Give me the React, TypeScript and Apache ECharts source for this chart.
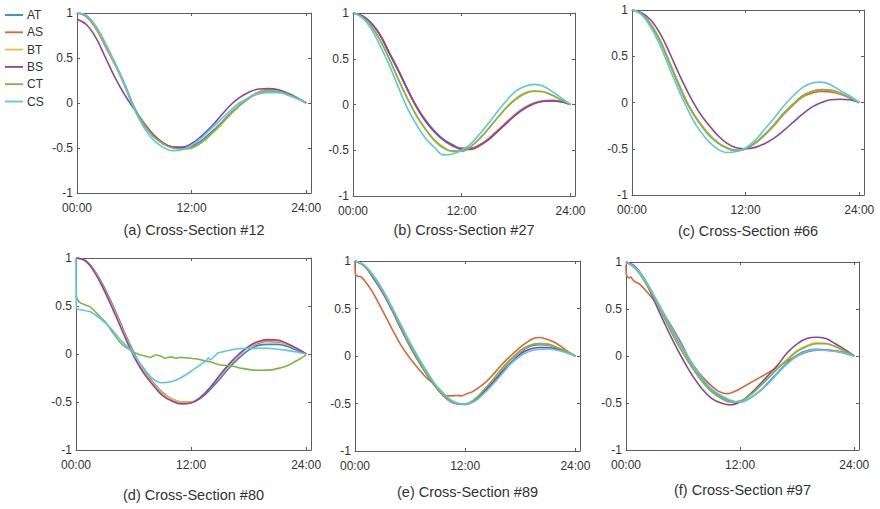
import React, { useEffect, useRef } from "react";
import * as echarts from "echarts";

const SERIES_NAMES = ["AT", "AS", "BT", "BS", "CT", "CS"];
const COLORS: Record<string, string> = {
  AT: "#2f86c9",
  AS: "#e0643a",
  BT: "#efbc3c",
  BS: "#8f42a6",
  CT: "#7fb63e",
  CS: "#5cc4ef",
};

const HOURS = [0, 1, 2, 3, 4, 5, 6, 7, 8, 9, 10, 11, 12, 13, 14, 15, 16, 17, 18, 19, 20, 21, 22, 23, 24];
const X_TICKS = [0, 12, 24];
const X_TICK_LABELS = ["00:00", "12:00", "24:00"];
const Y_TICKS = [-1, -0.5, 0, 0.5, 1];

// (a) Cross-Section #12
const A_AT = [1.0, 0.96, 0.83, 0.63, 0.43, 0.2, -0.05, -0.24, -0.37, -0.45, -0.49, -0.5, -0.48, -0.42, -0.33, -0.23, -0.12, -0.03, 0.06, 0.12, 0.14, 0.135, 0.105, 0.06, 0.0];
const A_AS = [1.0, 0.96, 0.82, 0.62, 0.42, 0.19, -0.06, -0.24, -0.37, -0.45, -0.49, -0.5, -0.49, -0.44, -0.35, -0.25, -0.13, -0.03, 0.06, 0.12, 0.15, 0.145, 0.11, 0.06, 0.0];
const A_BT = [1.0, 0.97, 0.83, 0.63, 0.43, 0.2, -0.05, -0.23, -0.37, -0.45, -0.49, -0.51, -0.5, -0.44, -0.35, -0.25, -0.13, -0.03, 0.06, 0.12, 0.145, 0.14, 0.11, 0.06, 0.0];
const A_BS = [0.93, 0.87, 0.72, 0.5, 0.28, 0.09, -0.07, -0.22, -0.35, -0.44, -0.49, -0.49, -0.45, -0.37, -0.27, -0.15, -0.03, 0.06, 0.12, 0.155, 0.16, 0.15, 0.11, 0.06, 0.0];
const A_CT = [1.0, 0.97, 0.84, 0.64, 0.44, 0.21, -0.05, -0.23, -0.37, -0.45, -0.5, -0.51, -0.5, -0.44, -0.35, -0.24, -0.13, -0.03, 0.05, 0.11, 0.135, 0.13, 0.1, 0.055, 0.0];
const A_CS = [1.0, 0.97, 0.85, 0.66, 0.44, 0.19, -0.07, -0.27, -0.41, -0.49, -0.53, -0.52, -0.47, -0.39, -0.29, -0.19, -0.09, 0.0, 0.06, 0.1, 0.115, 0.115, 0.09, 0.05, 0.0];

// (b) Cross-Section #27
const B_AT = [1.0, 0.97, 0.89, 0.76, 0.57, 0.38, 0.17, -0.02, -0.17, -0.29, -0.38, -0.44, -0.48, -0.48, -0.44, -0.38, -0.29, -0.19, -0.11, -0.04, 0.01, 0.035, 0.04, 0.03, 0.0];
const B_AS = [1.0, 0.97, 0.89, 0.75, 0.56, 0.37, 0.16, -0.03, -0.18, -0.3, -0.39, -0.45, -0.48, -0.48, -0.44, -0.37, -0.28, -0.19, -0.1, -0.03, 0.015, 0.04, 0.045, 0.03, 0.0];
const B_BT = [1.0, 0.96, 0.86, 0.7, 0.5, 0.27, 0.06, -0.12, -0.27, -0.4, -0.48, -0.515, -0.51, -0.46, -0.37, -0.26, -0.14, -0.02, 0.07, 0.13, 0.15, 0.14, 0.1, 0.05, 0.0];
const B_BS = [1.0, 0.97, 0.89, 0.76, 0.56, 0.37, 0.17, -0.02, -0.18, -0.3, -0.39, -0.45, -0.49, -0.49, -0.45, -0.38, -0.29, -0.2, -0.11, -0.04, 0.01, 0.035, 0.04, 0.03, 0.0];
const B_CT = [1.0, 0.96, 0.86, 0.7, 0.5, 0.28, 0.07, -0.12, -0.27, -0.39, -0.47, -0.51, -0.51, -0.46, -0.37, -0.26, -0.14, -0.03, 0.06, 0.12, 0.145, 0.14, 0.1, 0.05, 0.0];
const B_CS = [1.0, 0.95, 0.83, 0.64, 0.43, 0.19, -0.04, -0.22, -0.37, -0.47, -0.55, -0.54, -0.5, -0.43, -0.32, -0.2, -0.07, 0.05, 0.15, 0.2, 0.22, 0.2, 0.14, 0.07, 0.0];

// (c) Cross-Section #66
const C_AT = [1.0, 0.96, 0.84, 0.66, 0.42, 0.18, -0.04, -0.2, -0.33, -0.43, -0.49, -0.52, -0.5, -0.44, -0.35, -0.24, -0.12, -0.02, 0.07, 0.12, 0.135, 0.13, 0.1, 0.05, 0.0];
const C_AS = [1.0, 0.96, 0.84, 0.66, 0.42, 0.18, -0.04, -0.2, -0.33, -0.43, -0.49, -0.52, -0.5, -0.44, -0.35, -0.25, -0.13, -0.03, 0.06, 0.1, 0.12, 0.115, 0.09, 0.05, 0.0];
const C_BT = [1.0, 0.96, 0.85, 0.67, 0.43, 0.19, -0.03, -0.2, -0.33, -0.43, -0.49, -0.52, -0.5, -0.44, -0.35, -0.24, -0.12, -0.02, 0.07, 0.12, 0.14, 0.13, 0.1, 0.05, 0.0];
const C_BS = [1.0, 0.97, 0.89, 0.74, 0.53, 0.3, 0.09, -0.09, -0.23, -0.35, -0.44, -0.49, -0.5, -0.485, -0.445, -0.385, -0.305, -0.215, -0.125, -0.05, 0.0, 0.03, 0.035, 0.03, 0.0];
const C_CT = [1.0, 0.96, 0.84, 0.66, 0.42, 0.18, -0.04, -0.2, -0.34, -0.43, -0.49, -0.52, -0.5, -0.44, -0.35, -0.24, -0.12, -0.02, 0.07, 0.12, 0.14, 0.135, 0.1, 0.05, 0.0];
const C_CS = [1.0, 0.95, 0.81, 0.61, 0.36, 0.12, -0.1, -0.28, -0.41, -0.5, -0.54, -0.53, -0.49, -0.41, -0.29, -0.17, -0.04, 0.07, 0.16, 0.21, 0.22, 0.19, 0.13, 0.07, 0.0];

// (d) Cross-Section #80
const D_AT = [1.0, 0.97, 0.86, 0.68, 0.47, 0.24, 0.02, -0.16, -0.29, -0.4, -0.47, -0.5, -0.5, -0.46, -0.37, -0.26, -0.14, -0.04, 0.04, 0.09, 0.1, 0.1, 0.08, 0.04, 0.0];
const D_AS = [1.0, 0.97, 0.85, 0.66, 0.45, 0.22, 0.0, -0.17, -0.3, -0.41, -0.47, -0.5, -0.5, -0.45, -0.35, -0.23, -0.11, -0.01, 0.07, 0.11, 0.13, 0.125, 0.1, 0.055, 0.0];
const D_BT = [1.0, 0.97, 0.85, 0.66, 0.45, 0.22, 0.0, -0.17, -0.3, -0.41, -0.47, -0.5, -0.5, -0.45, -0.35, -0.23, -0.11, -0.01, 0.07, 0.12, 0.14, 0.135, 0.1, 0.055, 0.0];
const D_BS = [1.0, 0.97, 0.84, 0.65, 0.43, 0.2, -0.02, -0.19, -0.32, -0.43, -0.49, -0.52, -0.51, -0.45, -0.35, -0.22, -0.1, 0.0, 0.08, 0.13, 0.15, 0.145, 0.11, 0.06, 0.0];
const D_CT_X = [0, 0.2, 0.5, 1, 1.5, 2, 2.5, 3, 3.5, 4, 4.6, 5.2, 5.7, 6.2, 6.7, 7.2, 7.8, 8.3, 8.8, 9.3, 9.9, 10.4, 10.9, 11.5, 12, 12.5, 13, 13.5, 14, 14.5, 15.1, 15.8, 16.5, 17.3, 18.3, 19.3, 20.4, 21.1, 21.8, 22.3, 22.8, 23.4, 24];
const D_CT_Y = [0.61, 0.56, 0.53, 0.51, 0.49, 0.44, 0.39, 0.34, 0.27, 0.2, 0.12, 0.07, 0.04, 0.01, -0.01, -0.02, -0.035, -0.01, -0.02, -0.045, -0.03, -0.045, -0.035, -0.04, -0.045, -0.05, -0.06, -0.075, -0.08, -0.1, -0.115, -0.12, -0.13, -0.15, -0.165, -0.17, -0.165, -0.15, -0.13, -0.11, -0.08, -0.05, -0.01];
const D_CS_X = [0, 0.05, 0.5, 1.5, 2.5, 3.6, 4.6, 5.7, 6.7, 7.8, 8.8, 9.9, 10.9, 12, 13, 13.6, 13.8, 14, 14.8, 15.6, 16.5, 18.3, 20, 21.8, 23, 24];
const D_CS_Y = [1.0, 0.48, 0.46, 0.44, 0.37, 0.27, 0.15, 0.04, -0.1, -0.24, -0.3, -0.29, -0.25, -0.18, -0.11, -0.07, -0.04, -0.06, 0.01, 0.03, 0.05, 0.06, 0.06, 0.04, 0.02, 0.0];

// (e) Cross-Section #89
const E_AT = [1.0, 0.95, 0.82, 0.67, 0.49, 0.29, 0.11, -0.06, -0.22, -0.35, -0.45, -0.5, -0.505, -0.46, -0.37, -0.26, -0.15, -0.04, 0.04, 0.1, 0.12, 0.115, 0.085, 0.045, 0.0];
const E_AS_X = [0, 0.05, 0.3, 0.7, 1.3, 2, 2.5, 3.1, 4, 4.9, 5.8, 6.7, 7.6, 8.5, 9.3, 10, 10.5, 11.1, 11.6, 12.1, 12.7, 13.2, 13.8, 14.3, 15, 15.8, 16.7, 17.6, 18.5, 19.4, 20.1, 20.8, 21.6, 22.3, 23, 24];
const E_AS_Y = [1.0, 0.86, 0.84, 0.83, 0.76, 0.66, 0.57, 0.46, 0.29, 0.13, 0.0, -0.11, -0.21, -0.29, -0.36, -0.42, -0.42, -0.415, -0.42, -0.4, -0.38, -0.35, -0.31, -0.27, -0.2, -0.11, -0.02, 0.06, 0.13, 0.185, 0.195, 0.18, 0.15, 0.11, 0.06, 0.0];
const E_BT = [1.0, 0.95, 0.83, 0.67, 0.49, 0.3, 0.11, -0.06, -0.22, -0.35, -0.45, -0.5, -0.505, -0.46, -0.37, -0.26, -0.14, -0.03, 0.05, 0.11, 0.13, 0.125, 0.09, 0.05, 0.0];
const E_BS = [1.0, 0.95, 0.82, 0.67, 0.49, 0.29, 0.1, -0.07, -0.22, -0.35, -0.45, -0.5, -0.51, -0.47, -0.38, -0.28, -0.17, -0.07, 0.02, 0.07, 0.09, 0.09, 0.07, 0.04, 0.0];
const E_CT = [1.0, 0.95, 0.83, 0.68, 0.5, 0.3, 0.11, -0.06, -0.22, -0.35, -0.45, -0.5, -0.505, -0.46, -0.36, -0.25, -0.13, -0.03, 0.06, 0.11, 0.13, 0.125, 0.09, 0.05, 0.0];
const E_CS = [1.0, 0.96, 0.85, 0.7, 0.52, 0.33, 0.14, -0.03, -0.19, -0.33, -0.43, -0.49, -0.51, -0.48, -0.4, -0.3, -0.19, -0.08, 0.0, 0.05, 0.07, 0.075, 0.06, 0.035, 0.0];

// (f) Cross-Section #97
const F_AT = [1.0, 0.94, 0.81, 0.63, 0.44, 0.25, 0.07, -0.1, -0.24, -0.36, -0.43, -0.48, -0.49, -0.45, -0.38, -0.28, -0.17, -0.07, 0.01, 0.055, 0.07, 0.065, 0.05, 0.03, 0.0];
const F_AS_X = [0, 0.05, 0.3, 0.5, 0.8, 1.5, 2.3, 3.2, 4.1, 5, 5.9, 6.7, 7.6, 8.5, 9.5, 10.1, 10.6, 11.1, 11.6, 12.3, 13, 13.7, 14.4, 15.1, 15.8, 16.5, 17.2, 18, 18.9, 19.8, 20.7, 21.5, 22.4, 23.2, 24];
const F_AS_Y = [0.97, 0.86, 0.83, 0.84, 0.8, 0.76, 0.67, 0.56, 0.43, 0.28, 0.12, -0.04, -0.17, -0.27, -0.36, -0.39, -0.4, -0.39, -0.37, -0.33, -0.29, -0.25, -0.21, -0.17, -0.13, -0.08, -0.04, 0.0, 0.04, 0.06, 0.065, 0.06, 0.05, 0.03, 0.0];
const F_BT = [1.0, 0.93, 0.79, 0.61, 0.41, 0.21, 0.03, -0.13, -0.27, -0.38, -0.45, -0.49, -0.48, -0.42, -0.33, -0.23, -0.12, -0.03, 0.06, 0.11, 0.14, 0.135, 0.1, 0.05, 0.0];
const F_BS = [1.0, 0.95, 0.8, 0.58, 0.36, 0.15, -0.04, -0.21, -0.35, -0.45, -0.5, -0.52, -0.49, -0.41, -0.31, -0.2, -0.09, 0.04, 0.13, 0.185, 0.2, 0.185, 0.13, 0.07, 0.0];
const F_CT = [1.0, 0.93, 0.79, 0.61, 0.41, 0.21, 0.03, -0.13, -0.27, -0.38, -0.45, -0.49, -0.48, -0.42, -0.33, -0.23, -0.13, -0.04, 0.05, 0.1, 0.13, 0.13, 0.1, 0.05, 0.0];
const F_CS = [1.0, 0.94, 0.81, 0.63, 0.45, 0.26, 0.08, -0.09, -0.23, -0.35, -0.42, -0.47, -0.49, -0.45, -0.38, -0.29, -0.18, -0.08, 0.0, 0.05, 0.065, 0.06, 0.05, 0.03, 0.0];

const PANEL_TITLES = [
  "(a) Cross-Section #12",
  "(b) Cross-Section #27",
  "(c) Cross-Section #66",
  "(d) Cross-Section #80",
  "(e) Cross-Section #89",
  "(f) Cross-Section #97",
];

type XY = [number[], number[]];
const h = (ys: number[]): XY => [HOURS, ys];

const PANEL_DATA: Record<string, XY>[] = [
  { AT: h(A_AT), AS: h(A_AS), BT: h(A_BT), BS: h(A_BS), CT: h(A_CT), CS: h(A_CS) },
  { AT: h(B_AT), AS: h(B_AS), BT: h(B_BT), BS: h(B_BS), CT: h(B_CT), CS: h(B_CS) },
  { AT: h(C_AT), AS: h(C_AS), BT: h(C_BT), BS: h(C_BS), CT: h(C_CT), CS: h(C_CS) },
  { AT: h(D_AT), AS: h(D_AS), BT: h(D_BT), BS: h(D_BS), CT: [D_CT_X, D_CT_Y], CS: [D_CS_X, D_CS_Y] },
  { AT: h(E_AT), AS: [E_AS_X, E_AS_Y], BT: h(E_BT), BS: h(E_BS), CT: h(E_CT), CS: h(E_CS) },
  { AT: h(F_AT), AS: [F_AS_X, F_AS_Y], BT: h(F_BT), BS: h(F_BS), CT: h(F_CT), CS: h(F_CS) },
];

// layout (pixels)
const LAYOUT = [
  { left: 77, top: 13, width: 234, height: 180, titleY: 230 },
  { left: 353, top: 13, width: 222, height: 183, titleY: 230 },
  { left: 632, top: 10, width: 232, height: 185, titleY: 231 },
  { left: 76, top: 258, width: 235, height: 192, titleY: 495 },
  { left: 355, top: 261, width: 225, height: 190, titleY: 492 },
  { left: 626, top: 262, width: 233, height: 188, titleY: 490 },
];

const FONT = "'Liberation Sans', Arial, sans-serif";
const FRAME = "#5e5e5e";
const LABEL = "#333333";

export default function App() {
  const ref = useRef<HTMLDivElement>(null);

  useEffect(() => {
    if (!ref.current) return;
    const chart = echarts.init(ref.current, undefined, { renderer: "svg" });

    const grids: any[] = [];
    const xAxes: any[] = [];
    const yAxes: any[] = [];
    const series: any[] = [];
    const graphics: any[] = [];

    LAYOUT.forEach((L, i) => {
      grids.push({ left: L.left, top: L.top, width: L.width, height: L.height, containLabel: false });
      const xBase = {
        type: "value",
        gridIndex: i,
        min: 0,
        max: 24.5,
        interval: 12,
        splitLine: { show: false },
        axisLine: { show: true, onZero: false, lineStyle: { color: FRAME, width: 1 } },
        axisTick: { show: true, inside: true, length: 3, lineStyle: { color: FRAME } },
      };
      xAxes.push({
        ...xBase,
        position: "bottom",
        axisLabel: {
          show: true,
          margin: 9,
          color: LABEL,
          fontSize: 12,
          fontFamily: FONT,
          formatter: (v: number) => {
            const k = X_TICKS.indexOf(v);
            return k >= 0 ? X_TICK_LABELS[k] : "";
          },
        },
      });
      xAxes.push({ ...xBase, position: "top", axisLabel: { show: false } });
      const yBase = {
        type: "value",
        gridIndex: i,
        min: Y_TICKS[0],
        max: Y_TICKS[Y_TICKS.length - 1],
        interval: 0.5,
        splitLine: { show: false },
        axisLine: { show: true, onZero: false, lineStyle: { color: FRAME, width: 1 } },
        axisTick: { show: true, inside: true, length: 3, lineStyle: { color: FRAME } },
      };
      yAxes.push({
        ...yBase,
        position: "left",
        axisLabel: { show: true, margin: 4, color: LABEL, fontSize: 12, fontFamily: FONT },
      });
      yAxes.push({ ...yBase, position: "right", axisLabel: { show: false } });

      SERIES_NAMES.forEach((name) => {
        const [xs, ys] = PANEL_DATA[i][name];
        const noisy = xs !== HOURS;
        series.push({
          type: "line",
          name,
          xAxisIndex: i * 2,
          yAxisIndex: i * 2,
          data: xs.map((x, k) => [x, ys[k]]),
          showSymbol: false,
          smooth: noisy ? 0.2 : 0.4,
          lineStyle: { color: COLORS[name], width: 1.6 },
          itemStyle: { color: COLORS[name] },
          clip: true,
        });
      });

      graphics.push({
        type: "text",
        x: L.left + L.width / 2,
        y: L.titleY,
        style: {
          text: PANEL_TITLES[i],
          fill: "#333333",
          fontSize: 14.5,
          fontFamily: FONT,
          textAlign: "center",
          textVerticalAlign: "middle",
        },
      });
    });

    SERIES_NAMES.forEach((name, k) => {
      const y = 15 + k * 17.3;
      graphics.push({
        type: "line",
        shape: { x1: 5, y1: y, x2: 23, y2: y },
        style: { stroke: COLORS[name], lineWidth: 1.8 },
      });
      graphics.push({
        type: "text",
        x: 27,
        y,
        style: {
          text: name,
          fill: "#333333",
          fontSize: 12,
          fontFamily: FONT,
          textAlign: "left",
          textVerticalAlign: "middle",
        },
      });
    });

    chart.setOption({
      animation: false,
      backgroundColor: "#ffffff",
      grid: grids,
      xAxis: xAxes,
      yAxis: yAxes,
      series,
      graphic: graphics,
    });

    return () => chart.dispose();
  }, []);

  return (
    <div
      ref={ref}
      style={{ position: "absolute", left: 0, top: 0, width: 880, height: 509 }}
    />
  );
}
